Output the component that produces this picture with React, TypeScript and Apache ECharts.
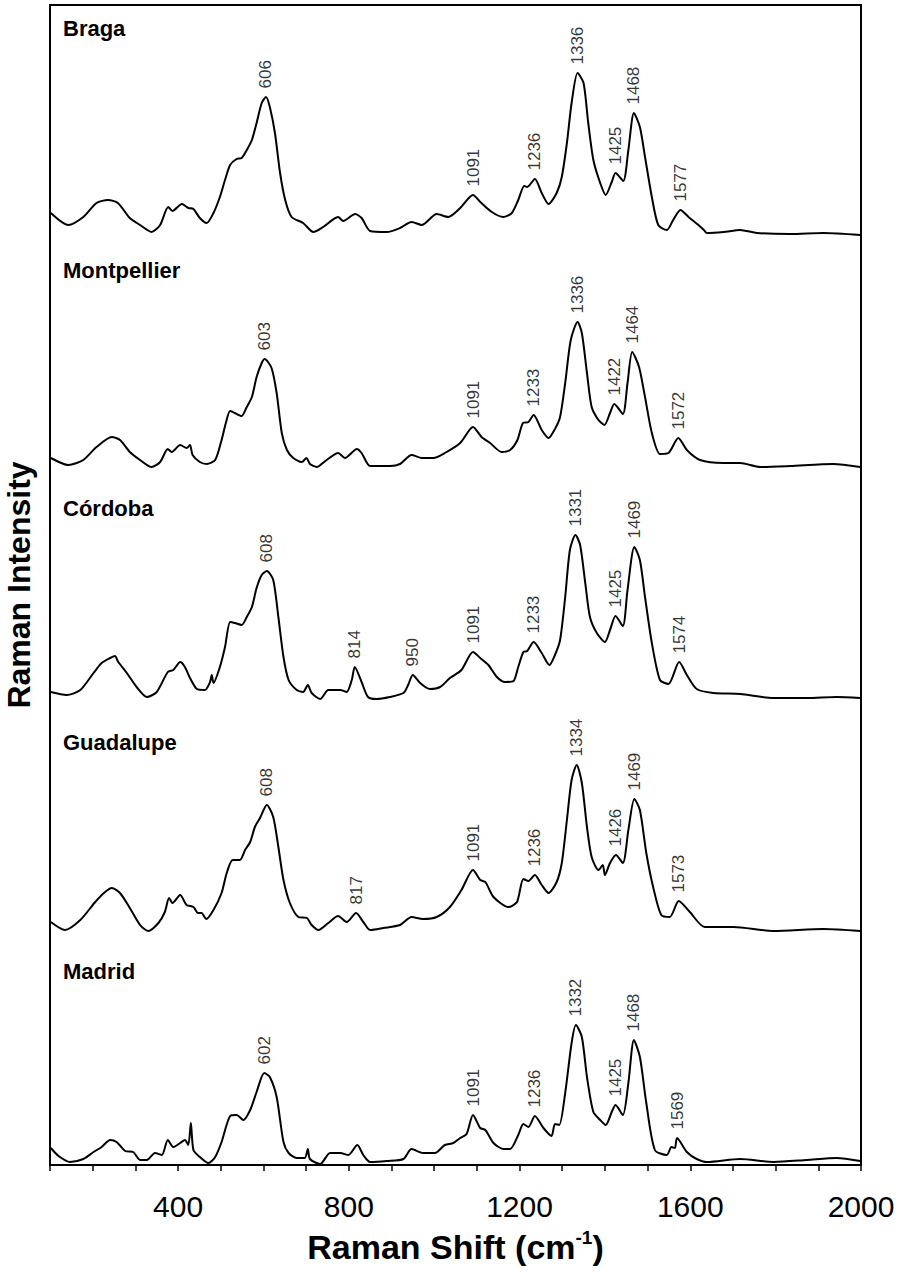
import React, { useEffect, useRef } from 'react';
import * as echarts from 'echarts';

// Raman shift (cm-1) vs intensity (arbitrary units, stacked offsets included)
const braga: [number, number][] = [
  [102, 952], [143, 940], [178, 948], [209, 962], [236, 965], [259, 962], [287, 947], [311, 940], [338, 933], [358, 940],
  [377, 958], [387, 954], [409, 961], [424, 957], [436, 956], [451, 947], [467, 942], [483, 952], [498, 968], [510, 985],
  [522, 1000], [537, 1006], [549, 1007], [561, 1015], [573, 1025], [584, 1042], [596, 1062], [606, 1068], [615, 1058], [627, 1032],
  [639, 992], [651, 965], [666, 948], [693, 942], [717, 933], [740, 938], [775, 948], [787, 944], [815, 951], [830, 947],
  [850, 934], [889, 933], [920, 937], [947, 943], [971, 940], [1006, 951], [1033, 948], [1061, 957], [1091, 970], [1108, 963],
  [1135, 953], [1162, 948], [1182, 952], [1197, 965], [1211, 979], [1218, 978], [1236, 986], [1252, 972], [1268, 961], [1287, 972],
  [1299, 988], [1311, 1022], [1322, 1062], [1336, 1092], [1350, 1082], [1361, 1042], [1373, 1005], [1389, 982], [1402, 970], [1416, 983],
  [1425, 992], [1443, 984], [1455, 1015], [1468, 1052], [1482, 1038], [1494, 1008], [1510, 968], [1525, 940], [1545, 935], [1560, 945],
  [1577, 955], [1596, 948], [1619, 940], [1632, 935], [1639, 932], [1678, 933], [1717, 935], [1756, 932], [1834, 931], [1912, 932],
  [1998, 930],
];

const montpellier: [number, number][] = [
  [102, 707], [143, 700], [178, 705], [209, 718], [245, 728], [264, 725], [287, 713], [311, 705], [338, 698], [358, 703],
  [376, 716], [385, 713], [405, 720], [420, 717], [428, 720], [434, 710], [451, 703], [467, 701], [487, 705], [502, 725],
  [512, 742], [522, 754], [533, 752], [549, 749], [561, 758], [573, 768], [584, 788], [596, 802], [603, 806], [619, 797],
  [631, 772], [643, 732], [655, 715], [670, 707], [690, 703], [701, 707], [709, 701], [725, 698], [748, 705], [775, 712],
  [791, 707], [819, 716], [830, 712], [850, 699], [897, 699], [920, 701], [947, 710], [971, 707], [998, 707], [1025, 712],
  [1061, 722], [1091, 738], [1111, 728], [1131, 722], [1158, 713], [1178, 715], [1195, 725], [1208, 742], [1221, 743], [1233, 750],
  [1252, 735], [1268, 727], [1283, 736], [1295, 748], [1307, 782], [1320, 825], [1336, 843], [1346, 832], [1358, 792], [1369, 758],
  [1385, 745], [1399, 740], [1412, 752], [1422, 761], [1442, 751], [1453, 782], [1464, 813], [1480, 798], [1494, 768], [1510, 732],
  [1529, 711], [1549, 712], [1572, 727], [1592, 715], [1623, 705], [1678, 702], [1717, 702], [1764, 698], [1834, 699], [1935, 701],
  [1998, 698],
];

const cordoba: [number, number][] = [
  [102, 473], [139, 470], [171, 475], [202, 492], [221, 502], [241, 507], [252, 509], [260, 503], [280, 492], [303, 478],
  [327, 468], [350, 473], [376, 493], [389, 495], [405, 503], [416, 498], [428, 487], [444, 476], [463, 475], [475, 483],
  [479, 490], [483, 482], [498, 498], [510, 518], [522, 543], [533, 542], [549, 540], [561, 548], [573, 558], [584, 577],
  [596, 590], [608, 594], [623, 585], [635, 548], [647, 508], [659, 485], [678, 475], [693, 473], [704, 480], [713, 472],
  [733, 466], [752, 475], [780, 475], [795, 473], [807, 485], [814, 498], [830, 483], [845, 468], [865, 466], [896, 468],
  [928, 472], [939, 480], [950, 490], [967, 482], [990, 476], [1014, 478], [1037, 487], [1064, 495], [1091, 513], [1108, 507],
  [1127, 500], [1147, 488], [1166, 483], [1186, 484], [1197, 498], [1209, 513], [1218, 514], [1233, 523], [1252, 512], [1270, 500],
  [1283, 510], [1295, 525], [1307, 568], [1318, 615], [1331, 630], [1342, 620], [1354, 582], [1365, 548], [1381, 532], [1400, 523],
  [1412, 535], [1425, 549], [1442, 539], [1453, 575], [1469, 618], [1482, 605], [1494, 568], [1510, 522], [1529, 485], [1549, 481],
  [1574, 503], [1592, 490], [1615, 476], [1654, 472], [1717, 471], [1795, 467], [1873, 467], [1943, 468], [1998, 467],
];

const guadalupe: [number, number][] = [
  [102, 243], [135, 235], [171, 245], [206, 263], [229, 273], [245, 277], [264, 272], [287, 257], [311, 240], [330, 234],
  [354, 242], [369, 253], [379, 267], [387, 262], [405, 270], [420, 260], [436, 258], [447, 252], [455, 252], [466, 246],
  [483, 255], [502, 272], [514, 292], [528, 305], [545, 305], [557, 315], [569, 323], [580, 338], [592, 347], [608, 360],
  [623, 348], [635, 318], [647, 285], [662, 262], [682, 248], [702, 247], [713, 240], [729, 235], [752, 242], [775, 249],
  [795, 243], [817, 252], [834, 243], [850, 235], [881, 237], [920, 240], [947, 248], [974, 246], [1006, 248], [1037, 258],
  [1064, 275], [1091, 295], [1108, 285], [1120, 283], [1139, 268], [1174, 258], [1194, 263], [1209, 286], [1221, 284], [1236, 290],
  [1252, 280], [1268, 272], [1287, 283], [1299, 302], [1311, 345], [1322, 385], [1334, 400], [1346, 382], [1358, 338], [1369, 308],
  [1385, 295], [1395, 300], [1400, 290], [1412, 302], [1426, 310], [1442, 302], [1455, 335], [1469, 366], [1482, 355], [1497, 312],
  [1513, 278], [1532, 250], [1552, 248], [1573, 264], [1599, 253], [1634, 238], [1701, 238], [1795, 234], [1912, 236], [1998, 234],
];

const madrid: [number, number][] = [
  [102, 17], [120, 9], [147, 3], [178, 6], [202, 13], [221, 18], [241, 25], [256, 23], [276, 14], [295, 13],
  [311, 5], [327, 5], [346, 12], [362, 10], [376, 25], [389, 18], [405, 22], [416, 25], [424, 20], [430, 42],
  [436, 15], [451, 8], [471, 2], [487, 8], [502, 23], [522, 49], [537, 50], [553, 45], [569, 55], [584, 73],
  [602, 92], [615, 88], [631, 68], [647, 23], [659, 12], [678, 7], [697, 7], [704, 16], [709, 6], [733, 1],
  [756, 12], [780, 12], [799, 10], [820, 20], [834, 10], [850, 3], [889, 4], [928, 6], [947, 16], [974, 12],
  [1002, 12], [1025, 20], [1045, 22], [1061, 27], [1076, 31], [1091, 50], [1108, 37], [1120, 35], [1139, 22], [1162, 16],
  [1178, 16], [1197, 30], [1209, 41], [1221, 38], [1236, 49], [1256, 37], [1275, 29], [1283, 41], [1293, 40], [1307, 72],
  [1322, 122], [1332, 140], [1346, 128], [1358, 88], [1373, 53], [1389, 45], [1402, 40], [1416, 53], [1425, 60], [1442, 50],
  [1455, 82], [1468, 125], [1482, 108], [1497, 62], [1517, 15], [1545, 10], [1556, 18], [1564, 17], [1569, 27], [1592, 13],
  [1615, 6], [1639, 3], [1717, 6], [1795, 3], [1873, 5], [1943, 7], [1998, 4],
];

// Labelled band positions (cm-1)
const bragaPeaks = [606, 1091, 1236, 1336, 1425, 1468, 1577];
const montpellierPeaks = [603, 1091, 1233, 1336, 1422, 1464, 1572];
const cordobaPeaks = [608, 814, 950, 1091, 1233, 1331, 1425, 1469, 1574];
const guadalupePeaks = [608, 817, 1091, 1236, 1334, 1426, 1469, 1573];
const madridPeaks = [602, 1091, 1236, 1332, 1425, 1468, 1569];

const sampleNames = ['Braga', 'Montpellier', 'Córdoba', 'Guadalupe', 'Madrid'];
const xTickLabels = [400, 800, 1200, 1600, 2000];

const FONT = '"Liberation Sans", Arial, Helvetica, sans-serif';

function peakY(data: [number, number][], x: number): number {
  let best = data[0];
  for (const p of data) {
    if (Math.abs(p[0] - x) < Math.abs(best[0] - x)) best = p;
  }
  return best[1];
}

export default function App() {
  const ref = useRef<HTMLDivElement>(null);

  useEffect(() => {
    if (!ref.current) return;
    const chart = echarts.init(ref.current, undefined, { renderer: 'svg' });

    const spectra = [
      { name: sampleNames[0], data: braga, peaks: bragaPeaks },
      { name: sampleNames[1], data: montpellier, peaks: montpellierPeaks },
      { name: sampleNames[2], data: cordoba, peaks: cordobaPeaks },
      { name: sampleNames[3], data: guadalupe, peaks: guadalupePeaks },
      { name: sampleNames[4], data: madrid, peaks: madridPeaks },
    ];

    const nameTops = [17, 259, 497, 731, 960];

    const lineSeries = spectra.map((s) => ({
      type: 'line',
      name: s.name,
      data: s.data,
      showSymbol: false,
      symbol: 'none',
      smooth: 0.25,
      lineStyle: { color: '#000', width: 2 },
      silent: true,
      z: 2,
    }));

    const peakData: any[] = [];
    spectra.forEach((s) => {
      s.peaks.forEach((p) => peakData.push([p, peakY(s.data, p)]));
    });

    const labelSeries = {
      type: 'scatter',
      data: peakData,
      symbolSize: 1,
      itemStyle: { color: 'rgba(0,0,0,0)' },
      silent: true,
      z: 3,
      label: {
        show: true,
        position: 'top',
        distance: 8,
        rotate: 90,
        align: 'left',
        verticalAlign: 'middle',
        formatter: (p: any) => String(p.value[0]),
        fontFamily: FONT,
        fontSize: 17,
        color: '#000',
      },
    };

    const option: any = {
      animation: false,
      grid: {
        left: 50,
        right: 41,
        top: 5,
        bottom: 109,
        show: true,
        borderColor: '#000',
        borderWidth: 2,
        containLabel: false,
        outerBoundsMode: 'none',
      },
      xAxis: {
        type: 'value',
        min: 100,
        max: 2000,
        interval: 100,
        name: '{a|Raman Shift (cm}{s|-1}{a|)}',
        nameLocation: 'middle',
        nameGap: 63,
        nameTextStyle: {
          rich: {
            a: { fontFamily: FONT, fontWeight: 'bold', fontSize: 34, color: '#000', lineHeight: 38 },
            s: { fontFamily: FONT, fontWeight: 'bold', fontSize: 19, color: '#000', verticalAlign: 'top', lineHeight: 38, padding: [0, 0, 14, 0] },
          },
        },
        axisLine: { show: true, lineStyle: { color: '#000', width: 2 } },
        axisTick: { show: true, inside: false, length: 6, lineStyle: { color: '#000', width: 1.5 } },
        axisLabel: {
          margin: 26,
          fontFamily: FONT,
          fontSize: 30,
          color: '#000',
          formatter: (v: number) => (xTickLabels.indexOf(v) >= 0 ? String(v) : ''),
        },
        splitLine: { show: false },
      },
      yAxis: {
        type: 'value',
        min: 0,
        max: 1160,
        name: 'Raman Intensity',
        nameLocation: 'middle',
        nameGap: 15,
        nameRotate: 90,
        nameTextStyle: { fontFamily: FONT, fontWeight: 'bold', fontSize: 32, color: '#000' },
        axisLine: { show: false },
        axisTick: { show: false },
        axisLabel: { show: false },
        splitLine: { show: false },
      },
      series: [...lineSeries, labelSeries],
      graphic: spectra.map((s, i) => ({
        type: 'text',
        left: 63,
        top: nameTops[i],
        silent: true,
        style: {
          text: s.name,
          fontFamily: FONT,
          fontWeight: 'bold',
          fontSize: 22,
          fill: '#000',
        },
      })),
    };

    chart.setOption(option);
    return () => chart.dispose();
  }, []);

  return (
    <div
      ref={ref}
      style={{ position: 'fixed', left: 0, top: 0, width: 902, height: 1274, background: '#fff' }}
    />
  );
}
